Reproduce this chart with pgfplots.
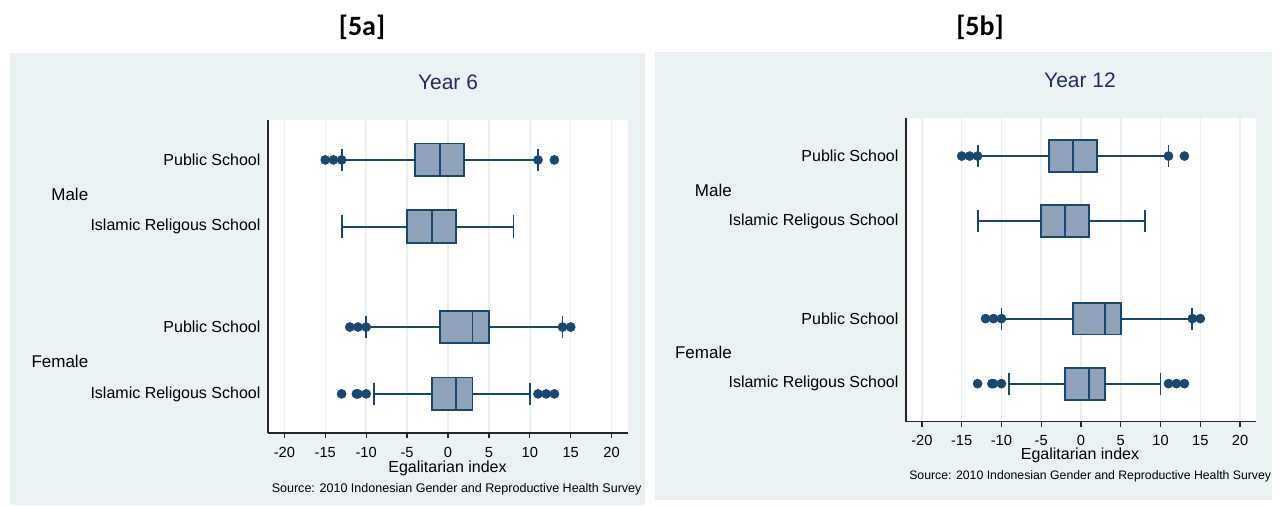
\documentclass[border=0pt]{standalone}
\usepackage{pgfplots}
\pgfplotsset{compat=1.18}
\usepgfplotslibrary{statistics}
\usepackage{fontspec}
\setmainfont{Liberation Sans}
\newfontfamily\calibri{Carlito}

\definecolor{panelbg}{RGB}{234,242,243}
\definecolor{stnavy}{RGB}{26,71,111}
\definecolor{boxfill}{RGB}{142,163,185}
\definecolor{titlecol}{RGB}{32,46,92}
\definecolor{gridcol}{RGB}{232,240,242}

\pgfplotsset{
  egal/.style={
    scale only axis,
    xmin=-22, xmax=22, ymin=0.415, ymax=5.09,
    axis lines*=left,
    axis line style={-, line width=1.1pt, black!85},
    xtick={-20,-15,...,20},
    xticklabels={-20,-15,-10,-5,0,5,10,15,20},
    tick align=outside,
    major tick length=4pt,
    x tick style={line width=0.9pt, black!85},
    xmajorgrids,
    grid style={gridcol, line width=1.1pt},
    ytick={1,2,3.5,4.5},
    yticklabels={Islamic Religous School, Public School, Islamic Religous School, Public School},
    y tick style={draw=none},
    yticklabel style={font=\fontsize{12}{14}\selectfont, inner xsep=1.5pt},
    xticklabel style={font=\fontsize{11}{13}\selectfont, yshift=-3pt},
    axis background/.style={fill=white},
    boxplot/draw direction=x,
    boxplot/every box/.style={draw=stnavy, fill=boxfill, line width=1.4pt},
    boxplot/every median/.style={draw=stnavy, line width=1.4pt},
    boxplot/every whisker/.style={draw=stnavy, line width=1.4pt},
    clip=false,
  },
  egalbox/.style={
    draw=stnavy, fill=boxfill, line width=1.4pt,
    mark=*, mark size=3.4pt,
    mark options={solid, draw=stnavy, fill=stnavy, line width=0.4pt},
    boxplot/box extend=0.49,
    boxplot/whisker extend=0.34,
  },
}

\begin{document}
\begin{tikzpicture}
% page, panel backgrounds and headings (pixel-like units)
\begin{scope}[x=0.75pt, y=-0.75pt]
  \path[use as bounding box, fill=white] (0,0) rectangle (1279,506);
  \fill[panelbg] (10,53) rectangle (645,505);
  \fill[panelbg] (655,52) rectangle (1272,500);
  \node[font=\calibri\bfseries\fontsize{21}{24}\selectfont] at (362,27) {[5a]};
  \node[font=\calibri\bfseries\fontsize{21}{24}\selectfont] at (980,27) {[5b]};
\end{scope}

% ---- Year 6 ----
\begin{axis}[egal, at={(268*0.75pt,-433*0.75pt)}, anchor=south west,
    width=270pt, height=234.4pt]
  % Male, public school
  \addplot[egalbox, boxplot prepared={lower whisker=-13, lower quartile=-4,
      median=-1, upper quartile=2, upper whisker=11, draw position=4.5}]
    coordinates {(0,-15) (0,-14) (0,-13) (0,11) (0,13)};
  % Male, Islamic religious school
  \addplot[egalbox, boxplot prepared={lower whisker=-13, lower quartile=-5,
      median=-2, upper quartile=1, upper whisker=8, draw position=3.5}]
    coordinates {};
  % Female, public school
  \addplot[egalbox, boxplot prepared={lower whisker=-10, lower quartile=-1,
      median=3, upper quartile=5, upper whisker=14, draw position=2}]
    coordinates {(0,-12) (0,-11) (0,-10) (0,14) (0,15)};
  % Female, Islamic religious school
  \addplot[egalbox, boxplot prepared={lower whisker=-9, lower quartile=-2,
      median=1, upper quartile=3, upper whisker=10, draw position=1}]
    coordinates {(0,-13) (0,-11.2) (0,-11) (0,-10) (0,11) (0,12) (0,13)};
\end{axis}

% ---- Year 12 ----
\begin{axis}[egal, at={(906*0.75pt,-421.7*0.75pt)}, anchor=south west,
    width=262.5pt, height=228pt]
  \addplot[egalbox, boxplot prepared={lower whisker=-13, lower quartile=-4,
      median=-1, upper quartile=2, upper whisker=11, draw position=4.5}]
    coordinates {(0,-15) (0,-14) (0,-13) (0,11) (0,13)};
  \addplot[egalbox, boxplot prepared={lower whisker=-13, lower quartile=-5,
      median=-2, upper quartile=1, upper whisker=8, draw position=3.5}]
    coordinates {};
  \addplot[egalbox, boxplot prepared={lower whisker=-10, lower quartile=-1,
      median=3, upper quartile=5, upper whisker=14, draw position=2}]
    coordinates {(0,-12) (0,-11) (0,-10) (0,14) (0,15)};
  \addplot[egalbox, boxplot prepared={lower whisker=-9, lower quartile=-2,
      median=1, upper quartile=3, upper whisker=10, draw position=1}]
    coordinates {(0,-13) (0,-11.2) (0,-11) (0,-10) (0,11) (0,12) (0,13)};
\end{axis}

% titles, group labels, axis titles and notes
\begin{scope}[x=0.75pt, y=-0.75pt]
  \node[font=\fontsize{15.75}{18}\selectfont, text=titlecol] at (448,82) {Year 6};
  \node[font=\fontsize{15.75}{18}\selectfont, text=titlecol] at (1080,80) {Year 12};
  \node[font=\fontsize{12.75}{15}\selectfont, anchor=east, inner sep=0pt] at (88.5,194.5) {Male};
  \node[font=\fontsize{12.75}{15}\selectfont, anchor=east, inner sep=0pt] at (88.5,361) {Female};
  \node[font=\fontsize{12.75}{15}\selectfont, anchor=east, inner sep=0pt] at (732,190) {Male};
  \node[font=\fontsize{12.75}{15}\selectfont, anchor=east, inner sep=0pt] at (732,352.3) {Female};
  \node[font=\fontsize{12}{14}\selectfont] at (447.5,468) {Egalitarian index};
  \node[font=\fontsize{12}{14}\selectfont] at (1080,455) {Egalitarian index};
  \node[font=\fontsize{9.4}{11}\selectfont, anchor=west, inner sep=0pt] at (271.5,489) {Source: 2010 Indonesian Gender and Reproductive Health Survey};
  \node[font=\fontsize{9.2}{11}\selectfont, anchor=west, inner sep=0pt] at (909,476) {Source: 2010 Indonesian Gender and Reproductive Health Survey};
\end{scope}
\end{tikzpicture}
\end{document}
